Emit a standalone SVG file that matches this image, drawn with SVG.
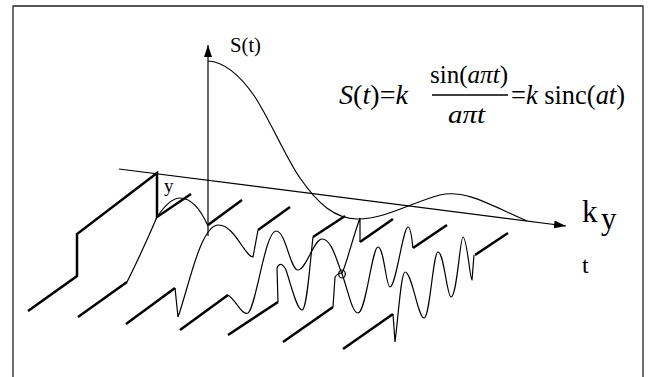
<svg xmlns="http://www.w3.org/2000/svg" width="653" height="377" viewBox="0 0 653 377">
<style>
.thick{fill:none;stroke:#000;stroke-width:2.5;stroke-linejoin:miter;stroke-linecap:butt}
.thin{fill:none;stroke:#000;stroke-width:1.2}
.frame{fill:none;stroke:#222;stroke-width:1.3}
.it{font-style:italic}
</style>
<defs>
<marker id="ah" viewBox="0 0 12 8" refX="12" refY="4" markerWidth="12" markerHeight="8" markerUnits="userSpaceOnUse" orient="auto"><path d="M0,0 L12,4 L0,8 Z" fill="#000"/></marker>
</defs>
<path class="frame" d="M13,377 V6 H643 V377"/>
<g id="connectors">
<line id="s-axis" class="thin" x1="208" y1="236" x2="208" y2="45" marker-end="url(#ah)"/>
<line id="ky-axis" class="thin" x1="119" y1="169" x2="566" y2="226" marker-end="url(#ah)"/>
<path id="sinc" class="thin" d="M208,61 C225,62 240,75 255,97 C270,120 287,160 300,178 C318,204 335,219 358,219 C385,219 410,203 440,195 C465,189 490,205 527,221"/>
<g id="thick-lines">
<path class="thick" d="M28,311 L77,276 L77,234 L157,173 L157,217 L191,194"/>
<path class="thick" d="M208,225 L242,200"/>
<path class="thick" d="M78,317 L127,282"/>
<path class="thick" d="M126,324 L175,288"/>
<path class="thick" d="M180,330 L228,295"/>
<path class="thick" d="M228,335 L278,302"/>
<path class="thick" d="M283,342 L333,307"/>
<path class="thick" d="M343,349 L393,314"/>
<path class="thick" d="M258,230 L290,207"/>
<path class="thick" d="M313,237 L345,216"/>
<path class="thick" d="M360,242 L393,219"/>
<path class="thick" d="M413,248 L447,225"/>
<path class="thick" d="M475,255 L508,233"/>
</g>
<g id="waves">
<path class="thin" d="M127,282 Q142,252 157,217"/>
<path class="thin" d="M157,217 C165,205 172,198 180,198 C190,198 200,208 208,226"/>
<path class="thin" d="M175,288 L178,317 C188,290 200,226 218,225 C234,224 245,257 253,257 L258,230"/>
<path class="thin" d="M228,295 C236,300 242,316 248,313 C256,308 265,231 276,231 C286,231 290,270 298,270 C306,270 314,239 322,239 C332,239 337,262 342,274 C348,290 352,313 358,313 C366,313 372,247 378,247 C384,247 386,287 390,287 C396,287 403,227 408,227 C411,227 412,240 413,248"/>
<path class="thin" d="M278,302 L277,268 C279,263 283,263 286,270 C292,288 297,310 302,310 C307,310 310,262 313,237"/>
<path class="thin" d="M333,307 L335,277 C337,274 340,273 342,273 C346,266 352,240 360,218 L360,242"/>
<ellipse class="thin" cx="342" cy="274" rx="3.3" ry="4"/>
<path class="thin" d="M393,314 L395,342 C398,320 401,272 405,272 C412,272 418,318 424,318 C430,318 433,252 438,252 C444,252 447,297 451,297 C457,297 460,237 463,237 C467,237 470,280 472,280 L474,255"/>
</g>
</g>
<g id="labels" font-family="'Liberation Serif', 'Times New Roman', serif">
<text x="230" y="52" font-size="20" textLength="31" lengthAdjust="spacingAndGlyphs">S(t)</text>
<text x="164" y="192" font-size="19">y</text>
<text x="582" y="222" font-size="31">k</text>
<text x="601" y="229" font-size="31">y</text>
<text x="582" y="273" font-size="24">t</text>
</g>
<g id="formula" font-family="'Liberation Serif', 'Times New Roman', serif">
<text x="339" y="104" font-size="27" textLength="69" lengthAdjust="spacingAndGlyphs"><tspan class="it">S</tspan>(<tspan class="it">t</tspan>)=<tspan class="it">k</tspan></text>
<text x="430" y="83" font-size="25" textLength="78" lengthAdjust="spacingAndGlyphs">sin(<tspan class="it">aπt</tspan>)</text>
<line x1="432" y1="95" x2="508" y2="95" stroke="#000" stroke-width="1.3"/>
<text x="448" y="123" font-size="26" textLength="37" lengthAdjust="spacingAndGlyphs" class="it">aπt</text>
<text x="511" y="104" font-size="26.5" textLength="114" lengthAdjust="spacingAndGlyphs">=<tspan class="it">k</tspan> sinc(<tspan class="it">at</tspan>)</text>
</g>
</svg>
